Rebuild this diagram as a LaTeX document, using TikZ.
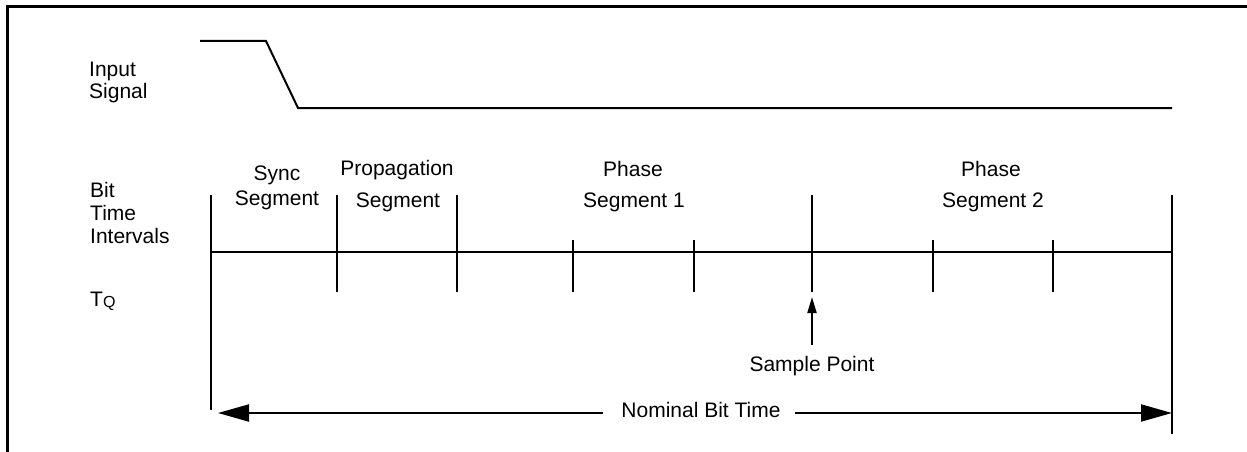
\documentclass[tikz,border=0pt]{standalone}
\usepackage{fontspec}
\setmainfont{Liberation Sans}
\usetikzlibrary{arrows.meta}
\tikzset{
  lbl/.style={anchor=base, inner sep=0pt, font=\fontsize{21}{24}\selectfont},
  lbll/.style={anchor=base west, inner sep=0pt, font=\fontsize{21}{24}\selectfont},
  wire/.style={line width=2pt, line cap=butt},
  frame/.style={line width=3pt},
  bigtip/.style={wire, -{Triangle[length=31pt,width=17pt]}},
  smalltip/.style={wire, -{Triangle[length=16pt,width=9pt]}}
}
\begin{document}
\begin{tikzpicture}[x=1pt,y=-1pt]
\useasboundingbox (0,0) rectangle (1247,452);
% frame (top and left edges)
\draw[frame] (7,452) -- (7,7) -- (1247,7);

% labels on the left
\node[lbll] (in1) at (89,77) {Input};
\node[lbll] (in2) at (89,99) {Signal};
\node[lbll] (bt1) at (90,197) {Bit};
\node[lbll] (bt2) at (90,220) {Time};
\node[lbll] (bt3) at (90,243) {Intervals};
\node[lbll] (tq) at (90,306) {T\raisebox{-1.5pt}{\fontsize{16}{16}\selectfont Q}};

% input signal
\draw[wire, line join=miter] (200,41) -- (266,41) -- (298,108) -- (1172,108);

% segment labels
\node[lbl] (sy1) at (277,180) {Sync};
\node[lbl] (sy2) at (277,205) {Segment};
\node[lbl] (pr1) at (397,175) {Propagation};
\node[lbl] (pr2) at (398,207) {Segment};
\node[lbl] (p11) at (633,176) {Phase};
\node[lbl] (p12) at (634,207) {Segment 1};
\node[lbl] (p21) at (991,176) {Phase};
\node[lbl] (p22) at (993,207) {Segment 2};

% time axis
\draw[wire] (211,252) -- (1172,252);
\draw[wire] (211,195) -- (211,410);
\draw[wire] (1172,195) -- (1172,434);
\foreach \x in {337,457,812} \draw[wire] (\x,195) -- (\x,292);
\foreach \x in {573,694,933,1053} \draw[wire] (\x,240) -- (\x,292);

% sample point
\node[lbl] (sp) at (812,371) {Sample Point};
\coordinate (spB) at (812,345);
\coordinate (spT) at (812,297);
\draw[smalltip] (spB) -- (spT);

% nominal bit time
\node[lbl] (nom) at (701,417) {Nominal Bit Time};
\coordinate (nomL) at (603,413);
\coordinate (nomR) at (795,413);
\coordinate (tipL) at (218,413);
\coordinate (tipR) at (1172,413);
\draw[bigtip] (nomL) -- (tipL);
\draw[bigtip] (nomR) -- (tipR);
\end{tikzpicture}
\end{document}
